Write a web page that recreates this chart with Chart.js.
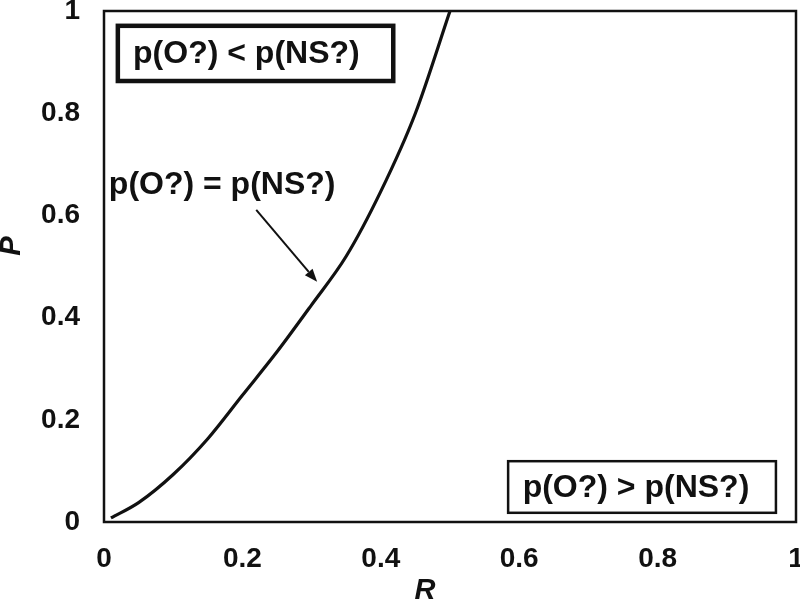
<!DOCTYPE html>
<html>
<head>
<meta charset="utf-8">
<script src="https://cdn.jsdelivr.net/npm/chart.js@4.4.1/dist/chart.umd.min.js"></script>
<style>
  html, body { margin: 0; padding: 0; background: #fff; }
  #wrap { width: 800px; height: 603px; }
</style>
</head>
<body>
<div id="wrap"><canvas id="c" width="800" height="603"></canvas></div>
<script>
// ---- data ----
const R_values = [0.01, 0.05, 0.10, 0.15, 0.20, 0.25, 0.30, 0.35, 0.40, 0.45, 0.50];
const P_values = [0.008, 0.038, 0.093, 0.163, 0.248, 0.333, 0.425, 0.520, 0.647, 0.800, 1.000];
const tickValues = [0, 0.2, 0.4, 0.6, 0.8, 1];
const tickLabels = ["0", "0.2", "0.4", "0.6", "0.8", "1"];
const xTitle = "R";
const yTitle = "P";

// region labels (text + data-space anchors)
const boxLabels = ["p(O?) < p(NS?)", "p(O?) > p(NS?)"];
const boxRectsR = [[0.020, 0.418], [0.584, 0.971]];
const boxRectsP = [[0.971, 0.863], [0.119, 0.018]];
const boxTextR = [0.042, 0.605];
const boxLineWidths = [4.5, 2.5];
const curveLabel = "p(O?) = p(NS?)";
const curveLabelAt = [0.007, 0.66];
const arrowFrom = [0.220, 0.611];
const arrowTo = [0.308, 0.470];

const FONT = "'Liberation Sans', Arial, sans-serif";
const INK = "#111111";

const points = R_values.map((r, i) => ({ x: r, y: P_values[i] }));

const framePlugin = {
  id: 'frame',
  afterDatasetsDraw(chart) {
    const { ctx, chartArea: a, scales: { x, y } } = chart;
    ctx.save();
    // plot frame
    ctx.strokeStyle = INK;
    ctx.lineWidth = 2.5;
    ctx.strokeRect(a.left, a.top, a.right - a.left, a.bottom - a.top);

    // region boxes
    ctx.font = "bold 32px " + FONT;
    ctx.textBaseline = 'middle';
    ctx.textAlign = 'left';
    boxLabels.forEach((t, i) => {
      const x0 = x.getPixelForValue(boxRectsR[i][0]);
      const x1 = x.getPixelForValue(boxRectsR[i][1]);
      const y0 = y.getPixelForValue(boxRectsP[i][0]);
      const y1 = y.getPixelForValue(boxRectsP[i][1]);
      ctx.fillStyle = '#fff';
      ctx.fillRect(x0, y0, x1 - x0, y1 - y0);
      ctx.lineWidth = boxLineWidths[i];
      ctx.strokeStyle = INK;
      ctx.strokeRect(x0, y0, x1 - x0, y1 - y0);
      ctx.fillStyle = INK;
      ctx.fillText(t, x.getPixelForValue(boxTextR[i]), (y0 + y1) / 2 + 1);
    });

    // curve label
    ctx.textAlign = 'left';
    ctx.fillText(curveLabel, x.getPixelForValue(curveLabelAt[0]), y.getPixelForValue(curveLabelAt[1]));

    // arrow
    const ax0 = x.getPixelForValue(arrowFrom[0]), ay0 = y.getPixelForValue(arrowFrom[1]);
    const ax1 = x.getPixelForValue(arrowTo[0]), ay1 = y.getPixelForValue(arrowTo[1]);
    const ang = Math.atan2(ay1 - ay0, ax1 - ax0);
    const hl = 13, hw = 5;
    const bx = ax1 - hl * Math.cos(ang), by = ay1 - hl * Math.sin(ang);
    ctx.lineWidth = 2;
    ctx.beginPath();
    ctx.moveTo(ax0, ay0);
    ctx.lineTo(bx, by);
    ctx.stroke();
    ctx.beginPath();
    ctx.moveTo(ax1, ay1);
    ctx.lineTo(bx + hw * Math.sin(ang), by - hw * Math.cos(ang));
    ctx.lineTo(bx - hw * Math.sin(ang), by + hw * Math.cos(ang));
    ctx.closePath();
    ctx.fill();

    // axis titles
    ctx.font = "italic bold 29px " + FONT;
    ctx.textAlign = 'center';
    ctx.textBaseline = 'middle';
    ctx.fillText(xTitle, x.getPixelForValue(0.464), a.bottom + 69);
    ctx.save();
    ctx.translate(a.left - 92, y.getPixelForValue(0.54));
    ctx.rotate(-Math.PI / 2);
    ctx.fillText(yTitle, 0, 0);
    ctx.restore();
    ctx.restore();
  }
};

new Chart(document.getElementById('c'), {
  type: 'scatter',
  data: {
    datasets: [{
      data: points,
      showLine: true,
      borderColor: INK,
      borderWidth: 3.2,
      pointRadius: 0,
      cubicInterpolationMode: 'monotone',
      fill: false
    }]
  },
  options: {
    responsive: false,
    animation: false,
    devicePixelRatio: 1,
    layout: { padding: { top: 11, right: 4, left: 0, bottom: 0 } },
    plugins: { legend: { display: false }, tooltip: { enabled: false } },
    scales: {
      x: {
        type: 'linear', min: 0, max: 1,
        afterBuildTicks(s) { s.ticks = tickValues.map(v => ({ value: v })); },
        afterFit(s) { s.height = 81; s.paddingLeft = 0; s.paddingRight = 0; },
        grid: { display: false, drawTicks: false },
        border: { display: false },
        ticks: {
          color: INK, padding: 20,
          font: { family: FONT, size: 28, weight: 'bold' },
          maxRotation: 0,
          callback: (v) => tickLabels[tickValues.indexOf(v)] ?? ''
        }
      },
      y: {
        type: 'linear', min: 0, max: 1,
        afterBuildTicks(s) { s.ticks = tickValues.map(v => ({ value: v })); },
        afterFit(s) { s.width = 104; s.paddingTop = 0; s.paddingBottom = 0; },
        grid: { display: false, drawTicks: false },
        border: { display: false },
        ticks: {
          color: INK, padding: 24,
          font: { family: FONT, size: 28, weight: 'bold' },
          callback: (v) => tickLabels[tickValues.indexOf(v)] ?? ''
        }
      }
    }
  },
  plugins: [framePlugin]
});
</script>
</body>
</html>
